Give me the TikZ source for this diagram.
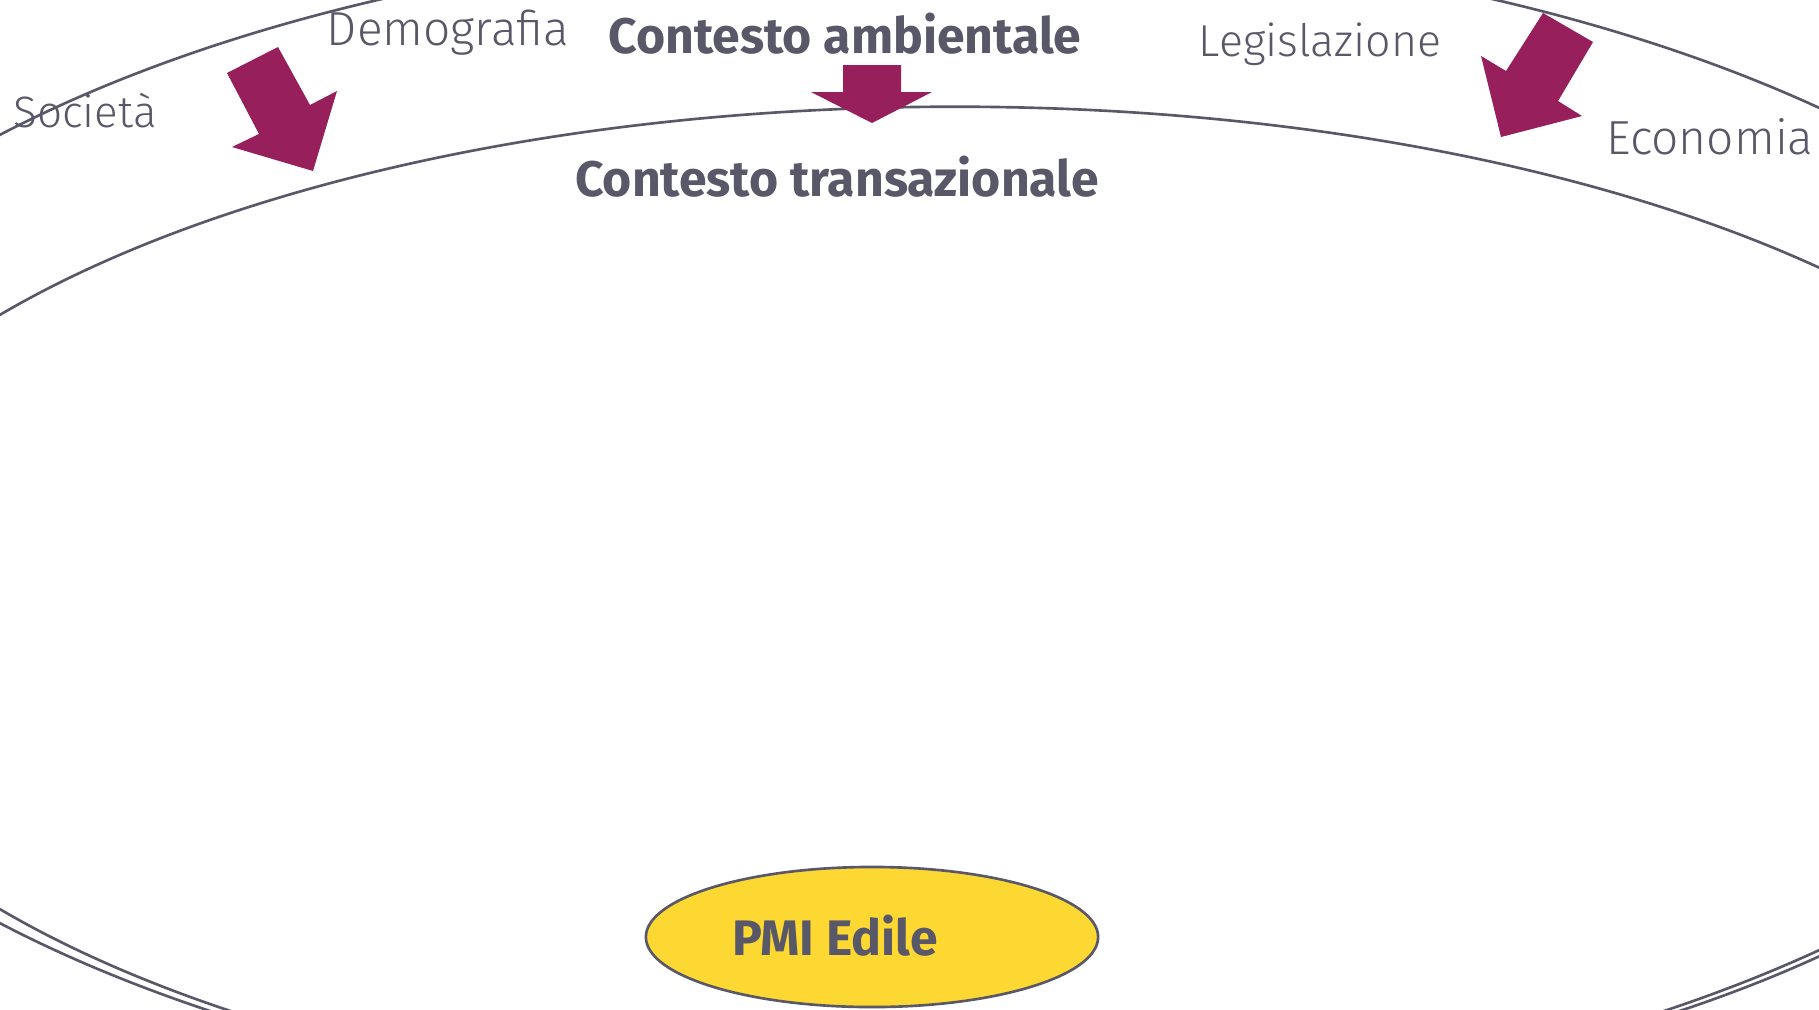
\documentclass[tikz,border=0pt]{standalone}
\usepackage{fontspec}
\usetikzlibrary{shapes.geometric}
\setmainfont{Fira Sans}
\newfontfamily\lightfont{Fira Sans Light}
\definecolor{slate}{RGB}{89,88,104}
\definecolor{plum}{RGB}{150,31,92}
\definecolor{sun}{RGB}{254,216,50}

\begin{document}
\begin{tikzpicture}[x=0.01cm,y=-0.01cm,
  ring/.style={draw=slate,line width=0.75pt},
  fatarrow/.style={fill=plum,draw=none},
  factor/.style={anchor=base,inner sep=0pt,text=slate,font=\lightfont\fontsize{13.6}{16}\selectfont},
  context/.style={anchor=base,inner sep=0pt,text=slate,font=\bfseries\fontsize{14.2}{17}\selectfont}]
  \clip (0,0) rectangle (1819,1009);
  \fill[white] (0,0) rectangle (1819,1009);

  % outer and inner context
  \draw[ring] (937,529) ellipse [x radius=12.58cm,y radius=5.9cm];
  \draw[ring] (955,612) ellipse [x radius=11.8cm,y radius=5.05cm];

  \node[context] (ambiente) at (845,53) {Contesto ambientale};
  \node[context] (transaz) at (837,196) {Contesto transazionale};

  % forces from the environment
  \node[factor] (demo) at (448,45) {Demografia};
  \node[factor,font=\lightfont\fontsize{12.5}{15}\selectfont] (soc) at (85,127) {Società};
  \node[factor,font=\lightfont\fontsize{12.7}{15}\selectfont] (legis) at (1320,57) {Legislazione};
  \node[factor] (eco) at (1710,154) {Economia};

  \fill[fatarrow] (278,47) -- (310,105) -- (337,91) -- (313,171) -- (232,147) -- (259,134) -- (227,73) -- cycle;
  \fill[fatarrow] (843,65) -- (901,65) -- (901,92) -- (932,92) -- (872,123) -- (811,92) -- (843,92) -- cycle;
  \fill[fatarrow] (1543,13) -- (1593,42) -- (1558,101) -- (1582,116) -- (1501,137) -- (1481,56) -- (1506,71) -- cycle;

  % the firm
  \node[ellipse,draw=slate,fill=sun,line width=0.75pt,inner sep=0pt,minimum width=4.52cm,minimum height=1.4cm] (pmi) at (872,937) {};
  \node[context] (pmitxt) at (835,955) {PMI Edile};
\end{tikzpicture}
\end{document}
